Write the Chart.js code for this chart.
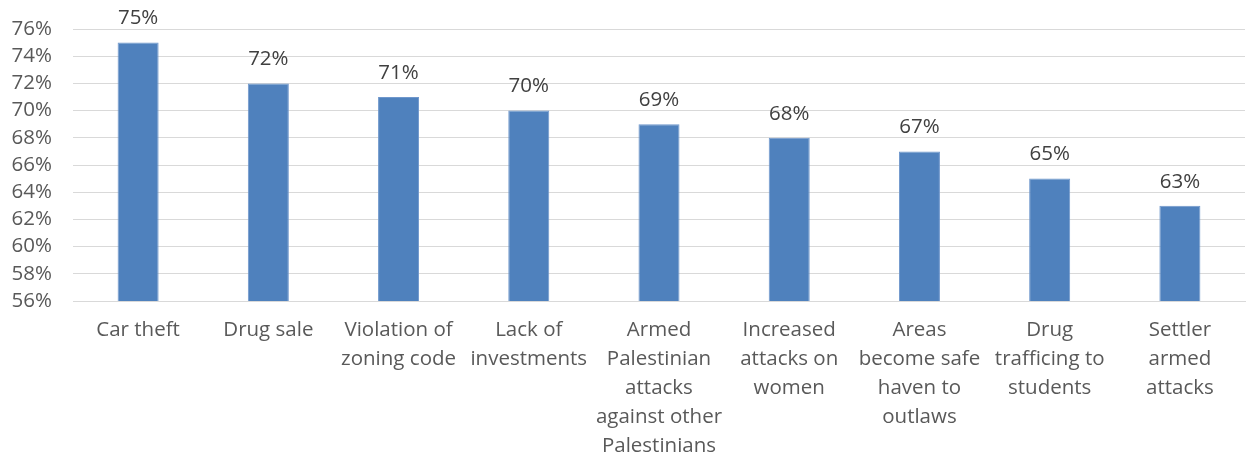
<!DOCTYPE html>
<html>
<head>
<meta charset="utf-8">
<script src="https://cdn.jsdelivr.net/npm/chart.js@4"></script>
<style>
  html, body { margin: 0; padding: 0; background: #fff; }
  #wrap { width: 1255px; height: 460px; }
</style>
</head>
<body>
<div id="wrap"><canvas id="chart" width="1255" height="460"></canvas></div>
<script>
// categories (multi-line as in the original)
const categories = [
  ['Car theft'],
  ['Drug sale'],
  ['Violation of', 'zoning code'],
  ['Lack of', 'investments'],
  ['Armed', 'Palestinian', 'attacks', 'against other', 'Palestinians'],
  ['Increased', 'attacks on', 'women'],
  ['Areas', 'become safe', 'haven to', 'outlaws'],
  ['Drug', 'trafficing to', 'students'],
  ['Settler', 'armed', 'attacks']
];
const values = [75, 72, 71, 70, 69, 68, 67, 65, 63];
const yMin = 56, yMax = 76, yStep = 2;

const FONT = '"Open Sans", "Liberation Sans", sans-serif';

// value labels above bars
const barLabels = {
  id: 'barLabels',
  afterDatasetsDraw(chart) {
    const ctx = chart.ctx;
    const meta = chart.getDatasetMeta(0);
    ctx.save();
    ctx.font = '20.5px ' + FONT;
    ctx.fillStyle = '#404040';
    ctx.textAlign = 'center';
    ctx.textBaseline = 'middle';
    meta.data.forEach((bar, i) => {
      ctx.fillText(values[i] + '%', bar.x, bar.y - 24);
    });
    ctx.restore();
  }
};

new Chart(document.getElementById('chart'), {
  type: 'bar',
  data: {
    labels: categories,
    datasets: [{
      data: values,
      backgroundColor: '#4F81BD',
      borderColor: '#6F97CC',
      borderWidth: 1,
      categoryPercentage: 1,
      barPercentage: 0.315
    }]
  },
  options: {
    responsive: false,
    animation: false,
    layout: { padding: { top: 29, right: 10, left: 0, bottom: 0 } },
    plugins: {
      legend: { display: false },
      tooltip: { enabled: false }
    },
    scales: {
      x: {
        grid: { display: false, drawTicks: false },
        border: { display: true, color: '#D9D9D9', width: 1 },
        ticks: {
          color: '#595959',
          font: { family: FONT, size: 20.5, lineHeight: '29px' },
          padding: 15,
          maxRotation: 0,
          autoSkip: false
        },
        afterFit(scale) { scale.height = 159; }
      },
      y: {
        min: yMin,
        max: yMax,
        grid: { color: '#D9D9D9', lineWidth: 1, drawTicks: false },
        border: { display: false },
        ticks: {
          stepSize: yStep,
          autoSkip: false,
          color: '#595959',
          font: { family: FONT, size: 20.5 },
          padding: 21,
          callback: v => v + '%'
        },
        afterFit(scale) {
          scale.width = 73;
          scale.paddingTop = 0;
          scale.paddingBottom = 0;
        }
      }
    }
  },
  plugins: [barLabels]
});
</script>
</body>
</html>
